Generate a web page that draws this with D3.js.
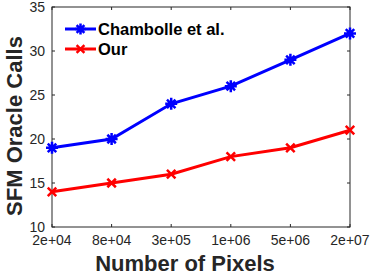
<!DOCTYPE html>
<meta charset="utf-8">
<style>
body { margin: 0; background: #fff; }
text { font-family: "Liberation Sans", Arial, sans-serif; }
</style>
<svg width="374" height="276"></svg>
<script src="https://d3js.org/d3.v7.min.js"></script>
<script>
var pixelLabels = ["2e+04", "8e+04", "3e+05", "1e+06", "5e+06", "2e+07"]
var chambolleCalls = [19, 20, 24, 26, 29, 32]
var ourCalls = [14, 15, 16, 18, 19, 21]
var yTicks = [10, 15, 20, 25, 30, 35]

const svg = d3.select('svg')
const plotLeft = 52, plotRight = 350, plotTop = 7, plotBottom = 227
const axisColour = '#262626'

const x = d3.scalePoint().domain(pixelLabels).range([plotLeft, plotRight])
const y = d3.scaleLinear().domain([10, 35]).range([plotBottom, plotTop])

// box
svg.append('rect')
	.attr('x', plotLeft).attr('y', plotTop)
	.attr('width', plotRight - plotLeft).attr('height', plotBottom - plotTop)
	.attr('fill', 'none').attr('stroke', axisColour).attr('stroke-width', 1)

// ticks (inward, mirrored like matlab)
const tickLen = 3
pixelLabels.forEach(d => {
	svg.append('line').attr('x1', x(d)).attr('x2', x(d))
		.attr('y1', plotBottom).attr('y2', plotBottom - tickLen).attr('stroke', axisColour)
	svg.append('line').attr('x1', x(d)).attr('x2', x(d))
		.attr('y1', plotTop).attr('y2', plotTop + tickLen).attr('stroke', axisColour)
})
yTicks.forEach(d => {
	svg.append('line').attr('x1', plotLeft).attr('x2', plotLeft + tickLen)
		.attr('y1', y(d)).attr('y2', y(d)).attr('stroke', axisColour)
	svg.append('line').attr('x1', plotRight).attr('x2', plotRight - tickLen)
		.attr('y1', y(d)).attr('y2', y(d)).attr('stroke', axisColour)
})

svg.append('g').selectAll('text')
	.data(pixelLabels)
	.enter().append('text')
	.attr('x', d => x(d)).attr('y', plotBottom + 18)
	.attr('text-anchor', 'middle')
	.attr('font-size', 14).attr('fill', axisColour)
	.text(d => d)

svg.append('g').selectAll('text')
	.data(yTicks)
	.enter().append('text')
	.attr('x', plotLeft - 7).attr('y', d => y(d) + 5)
	.attr('text-anchor', 'end')
	.attr('font-size', 14).attr('fill', axisColour)
	.text(d => d)

svg.append('text')
	.attr('x', 185).attr('y', 271)
	.attr('text-anchor', 'middle')
	.attr('font-size', 22).attr('font-weight', 'bold').attr('fill', axisColour)
	.text('Number of Pixels')

svg.append('text')
	.attr('transform', 'translate(22,126) rotate(-90)')
	.attr('text-anchor', 'middle')
	.attr('font-size', 22).attr('font-weight', 'bold').attr('fill', axisColour)
	.text('SFM Oracle Calls')

function starPath(cx, cy, r) {
	var p = ''
	for (var i = 0; i < 4; i++) {
		var a = i * Math.PI / 4
		var dx = r * Math.cos(a), dy = r * Math.sin(a)
		p += 'M' + (cx - dx) + ',' + (cy - dy) + 'L' + (cx + dx) + ',' + (cy + dy)
	}
	return p
}
function crossPath(cx, cy, r) {
	var d = r * Math.SQRT1_2
	return 'M' + (cx - d) + ',' + (cy - d) + 'L' + (cx + d) + ',' + (cy + d) +
		'M' + (cx - d) + ',' + (cy + d) + 'L' + (cx + d) + ',' + (cy - d)
}

const series = [
	{ name: 'Chambolle et al.', values: chambolleCalls, colour: '#0000ff', marker: starPath },
	{ name: 'Our', values: ourCalls, colour: '#ff0000', marker: crossPath }
]

const line = d3.line().x((d, i) => x(pixelLabels[i])).y(d => y(d))

series.forEach(s => {
	svg.append('path')
		.attr('d', line(s.values))
		.attr('fill', 'none').attr('stroke', s.colour).attr('stroke-width', 3)
	svg.append('g').selectAll('path')
		.data(s.values)
		.enter().append('path')
		.attr('d', (d, i) => s.marker(x(pixelLabels[i]), y(d), 6))
		.attr('stroke', s.colour).attr('stroke-width', 2.5).attr('fill', 'none')
})

// legend
series.forEach((s, i) => {
	var ly = 29 + i * 20
	svg.append('line').attr('x1', 65).attr('x2', 96).attr('y1', ly).attr('y2', ly)
		.attr('stroke', s.colour).attr('stroke-width', 3)
	svg.append('path').attr('d', s.marker(80.5, ly, 5.5))
		.attr('stroke', s.colour).attr('stroke-width', 2.5).attr('fill', 'none')
	svg.append('text').attr('x', 98).attr('y', ly + 6)
		.attr('font-size', 16.5).attr('font-weight', 'bold').attr('fill', '#000')
		.text(s.name)
})
</script>
